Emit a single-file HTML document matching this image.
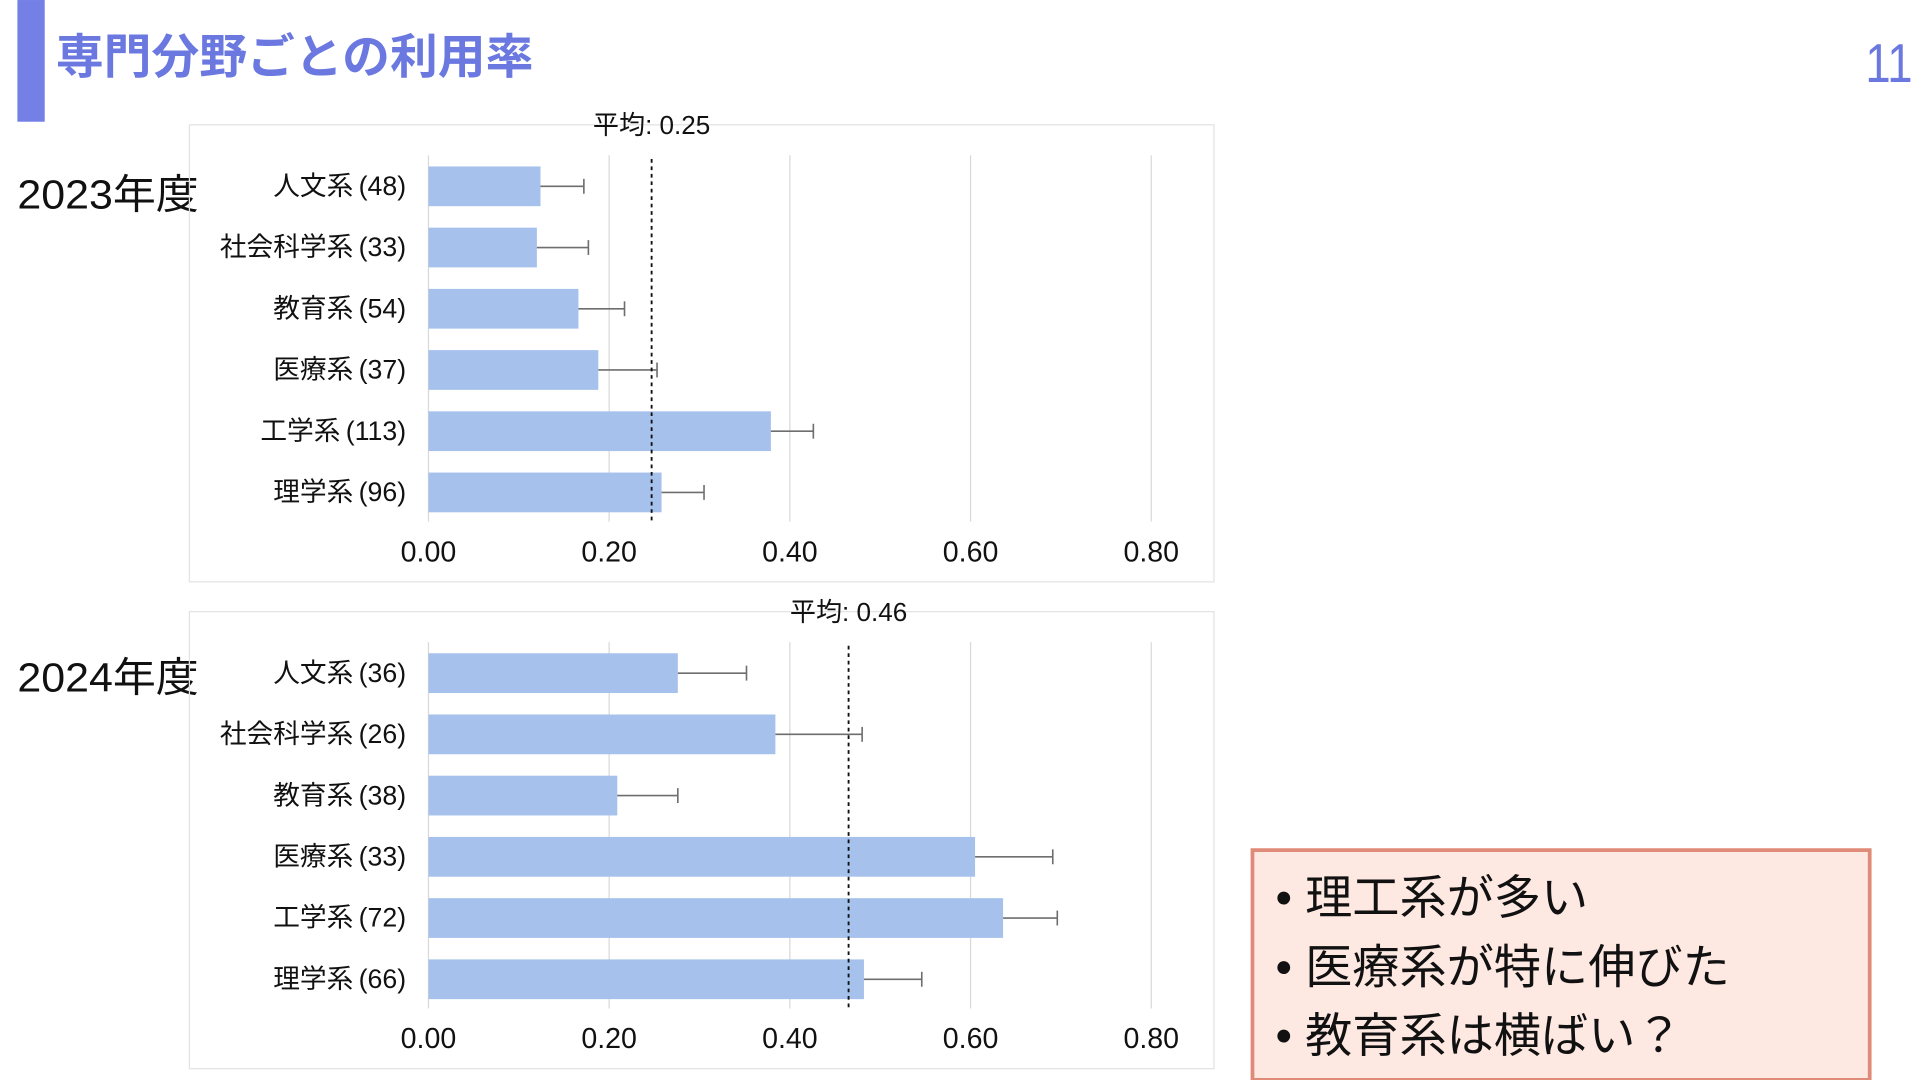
<!DOCTYPE html>
<html><head><meta charset="utf-8"><style>
html,body{margin:0;padding:0;background:#fff;}
svg{display:block;font-family:"Liberation Sans","Noto Sans CJK JP",sans-serif;}
</style></head><body>
<svg id="svg" width="1920" height="1080" viewBox="0 0 1546 869.6">
<rect x="14" y="0" width="22" height="98" fill="#7480e6"/>
<text x="45" y="59" font-size="38.5" fill="#6a78e0" font-weight="bold">専門分野ごとの利用率</text>
<text x="1540" y="66" font-size="44" fill="#6a78e0" text-anchor="end" textLength="38" lengthAdjust="spacingAndGlyphs">11</text>
<text x="14" y="168" font-size="33" fill="#111" textLength="146" lengthAdjust="spacingAndGlyphs">2023年度</text>
<text x="14" y="557" font-size="33" fill="#111" textLength="146" lengthAdjust="spacingAndGlyphs">2024年度</text>
<g id="c1"></g>
<g id="c2"></g>
<rect x="1008.5" y="684.5" width="497" height="185" fill="#fde8e2" stroke="#e08a78" stroke-width="3"/>
<text x="1027" y="736" font-size="38" fill="#111">• 理工系が多い</text>
<text x="1027" y="792" font-size="38" fill="#111">• 医療系が特に伸びた</text>
<text x="1027" y="847" font-size="38" fill="#111">• 教育系は横ばい？</text>
</svg>
<script>
const categories2023 = ["人文系 (48)","社会科学系 (33)","教育系 (54)","医療系 (37)","工学系 (113)","理学系 (96)"];
const values2023 = [0.124,0.120,0.166,0.188,0.379,0.258];
const errHigh2023 = [0.172,0.177,0.217,0.253,0.426,0.305];
const mean2023 = 0.247;
const meanLabel2023 = "平均: 0.25";
const categories2024 = ["人文系 (36)","社会科学系 (26)","教育系 (38)","医療系 (33)","工学系 (72)","理学系 (66)"];
const values2024 = [0.276,0.384,0.209,0.605,0.636,0.482];
const errHigh2024 = [0.352,0.480,0.276,0.691,0.696,0.546];
const mean2024 = 0.465;
const meanLabel2024 = "平均: 0.46";
const ticks = [0,0.2,0.4,0.6,0.8];
const tickLabels = ["0.00","0.20","0.40","0.60","0.80"];

const NS="http://www.w3.org/2000/svg";
function mk(g,tag,attrs){const e=document.createElementNS(NS,tag);for(const k in attrs)e.setAttribute(k,attrs[k]);g.appendChild(e);return e;}
function draw(gid,top,cats,vals,errs,mean,meanLabel){
  const g=document.getElementById(gid);
  const x=v=>345+v*(927-345)/0.8;
  const gridTop=top+25, gridBot=top+320, rowStep=49.3, firstRow=top+50;
  const y=i=>firstRow+i*rowStep;
  let e=mk(g,'rect',{x:152.5,y:top+0.5,width:825,height:368,fill:'none',stroke:'#e3e3e3'});
  
  
  ticks.forEach((t,i)=>{
    let l=mk(g,'line',{x1:x(t),x2:x(t),y1:gridTop,y2:gridBot,stroke:'#d9d9d9','stroke-width':1});
    
    
    let tx=mk(g,'text',{x:x(t),y:top+352,'font-size':23,'text-anchor':'middle',fill:'#111'});
    tx.textContent=tickLabels[i];
    
    
  });
  cats.forEach((c,i)=>{
    let b=mk(g,'rect',{x:x(0),y:y(i)-16,width:x(vals[i])-x(0),height:32,fill:'#a6c1eb'});
    
    
    let el=mk(g,'line',{x1:x(vals[i]),x2:x(errs[i]),y1:y(i),y2:y(i),stroke:'#6e6e6e','stroke-width':1.3});
    
    
    let cap=mk(g,'line',{x1:x(errs[i]),x2:x(errs[i]),y1:y(i)-6,y2:y(i)+6,stroke:'#6e6e6e','stroke-width':1.3});
    
    
    let t=mk(g,'text',{x:327,y:y(i)+7,'font-size':21.5,'text-anchor':'end',fill:'#111'});
    t.textContent=c.replace(' (', '\u2009(');
    
    
  });
  let m=mk(g,'line',{x1:x(mean),x2:x(mean),y1:gridTop+3,y2:gridBot,stroke:'#111','stroke-width':1.5,'stroke-dasharray':'3,3'});
  
  
  let ml=mk(g,'text',{x:x(mean),y:top+8,'font-size':21,'text-anchor':'middle',fill:'#111'});
  ml.textContent=meanLabel;
  
  
}
draw('c1',100,categories2023,values2023,errHigh2023,mean2023,meanLabel2023);
draw('c2',492,categories2024,values2024,errHigh2024,mean2024,meanLabel2024);
</script>
</body></html>
